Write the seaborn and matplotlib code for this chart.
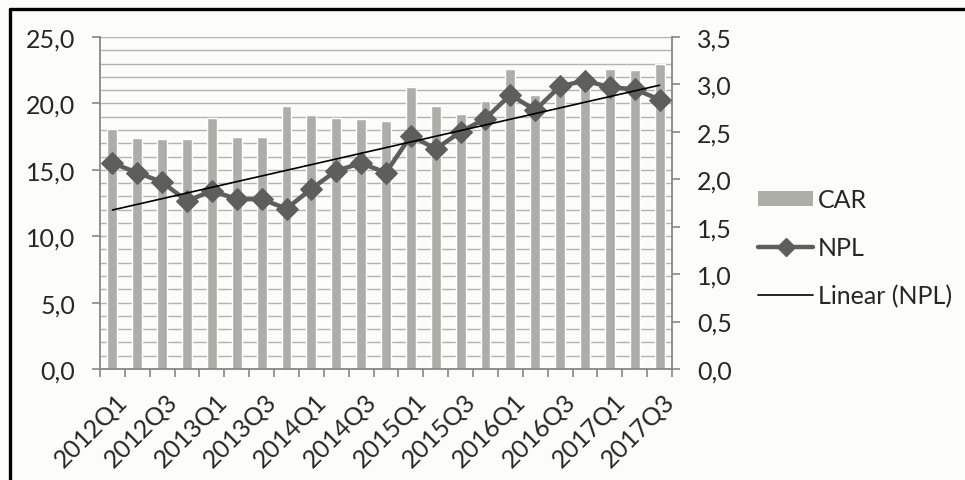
import numpy as np
import pandas as pd
import matplotlib
matplotlib.use("Agg")
import matplotlib.pyplot as plt
from matplotlib.lines import Line2D
from matplotlib.patches import Patch
from matplotlib.ticker import FuncFormatter, MultipleLocator, FixedLocator
import seaborn as sns

quarters = [f"{y}Q{q}" for y in range(2012, 2018) for q in range(1, 5)][:23]
car = [18.1, 17.4, 17.3, 17.3, 18.9, 17.5, 17.5, 19.8, 19.1, 18.9, 18.8, 18.7,
       21.2, 19.8, 19.2, 20.2, 22.6, 20.6, 21.5, 22.0, 22.6, 22.5, 23.0]
npl = [2.17, 2.07, 1.97, 1.77, 1.88, 1.79, 1.79, 1.69, 1.90, 2.09, 2.17, 2.07,
       2.46, 2.32, 2.50, 2.64, 2.89, 2.73, 2.98, 3.04, 2.97, 2.95, 2.84]
labels = ["CAR", "NPL", "Linear (NPL)"]

df = pd.DataFrame({"quarter": quarters, "CAR": car, "NPL": npl})
pos = np.arange(len(quarters))

sns.set_theme(style="white")
plt.rcParams["font.family"] = ["Lato", "DejaVu Sans"]

BG = "#fcfdf8"
BAR = "#adaea8"
LINE = "#5e5f5b"
AXC = "#878787"
GRID = "#b3b3b3"
FS = 18

fig = plt.figure(figsize=(9.65, 4.81), dpi=100, facecolor=BG)
ax = fig.add_axes([100 / 965, 1 - 370 / 481, 572 / 965, 332 / 481])
ax.set_facecolor("none")

sns.barplot(data=df, x="quarter", y="CAR", color=BAR, width=0.4,
            saturation=1, ax=ax, zorder=2)
ax.set_xlim(-0.5, len(quarters) - 0.5)
ax.set_ylim(0, 25)
ax.set_xlabel("")
ax.set_ylabel("")

# horizontal grid every unit behind the bars
ax.yaxis.set_major_locator(MultipleLocator(5))
ax.yaxis.set_minor_locator(MultipleLocator(1))
ax.grid(axis="y", which="both", color=GRID, linewidth=1.0, zorder=0)
ax.grid(axis="x", visible=False)
ax.set_axisbelow(True)
fmt = FuncFormatter(lambda v, p: f"{v:.1f}".replace(".", ","))
ax.yaxis.set_major_formatter(fmt)
ax.tick_params(axis="y", which="major", direction="out", length=6, width=1.2,
               color=AXC, labelsize=FS, pad=12, left=True)
ax.tick_params(axis="y", which="minor", length=0)

# category boundary ticks, labels on every other quarter
ax.xaxis.set_major_locator(FixedLocator(np.arange(-0.5, len(quarters), 1.0)))
ax.xaxis.set_minor_locator(FixedLocator(pos[::2] + 0.45))
ax.set_xticklabels([], minor=False)
ax.set_xticklabels(quarters[::2], minor=True, rotation=45, ha="right",
                   va="center", rotation_mode="anchor")
ax.tick_params(axis="x", which="major", direction="out", length=6, width=1.2,
               color=AXC, bottom=True)
ax.tick_params(axis="x", which="minor", length=0, labelsize=FS, pad=20)

for s in ["top", "right"]:
    ax.spines[s].set_visible(False)
for s in ["left", "bottom"]:
    ax.spines[s].set_color(AXC)
    ax.spines[s].set_linewidth(1.3)

ax2 = ax.twinx()
sns.lineplot(x=pos, y=npl, color=LINE, linewidth=3.2, marker="D",
             markersize=11, markeredgecolor=LINE, ax=ax2, zorder=3)
coef = np.polyfit(pos, npl, 1)
ax2.plot(pos, np.polyval(coef, pos), color="black", linewidth=1.2, zorder=4)
ax2.set_ylim(0, 3.5)
ax2.yaxis.set_major_locator(MultipleLocator(0.5))
ax2.yaxis.set_major_formatter(fmt)
ax2.tick_params(axis="y", direction="out", length=6, width=1.2, color=AXC,
                labelsize=FS, pad=12, right=True)
ax2.set_ylabel("")
for s in ["top", "left", "bottom"]:
    ax2.spines[s].set_visible(False)
ax2.spines["right"].set_color(AXC)
ax2.spines["right"].set_linewidth(1.3)

handles = [
    Patch(facecolor=BAR, edgecolor="none"),
    Line2D([], [], color=LINE, linewidth=3.2, marker="D", markersize=9),
    Line2D([], [], color="black", linewidth=1.2),
]
fig.legend(handles, labels, loc="center left",
           bbox_to_anchor=(758 / 965, 1 - 249 / 481), frameon=False,
           fontsize=FS, handlelength=2.2, handletextpad=0.2,
           labelspacing=1.0, borderpad=0, borderaxespad=0,
           handleheight=0.55)

# outer frame on the top and left edges
fig.add_artist(Line2D([10 / 965, 1], [1 - 10 / 481] * 2, color="black",
                      linewidth=2.4, transform=fig.transFigure))
fig.add_artist(Line2D([10 / 965] * 2, [0, 1 - 10 / 481], color="black",
                      linewidth=2.4, transform=fig.transFigure))

fig.savefig("out.png", dpi=100, facecolor=BG)
